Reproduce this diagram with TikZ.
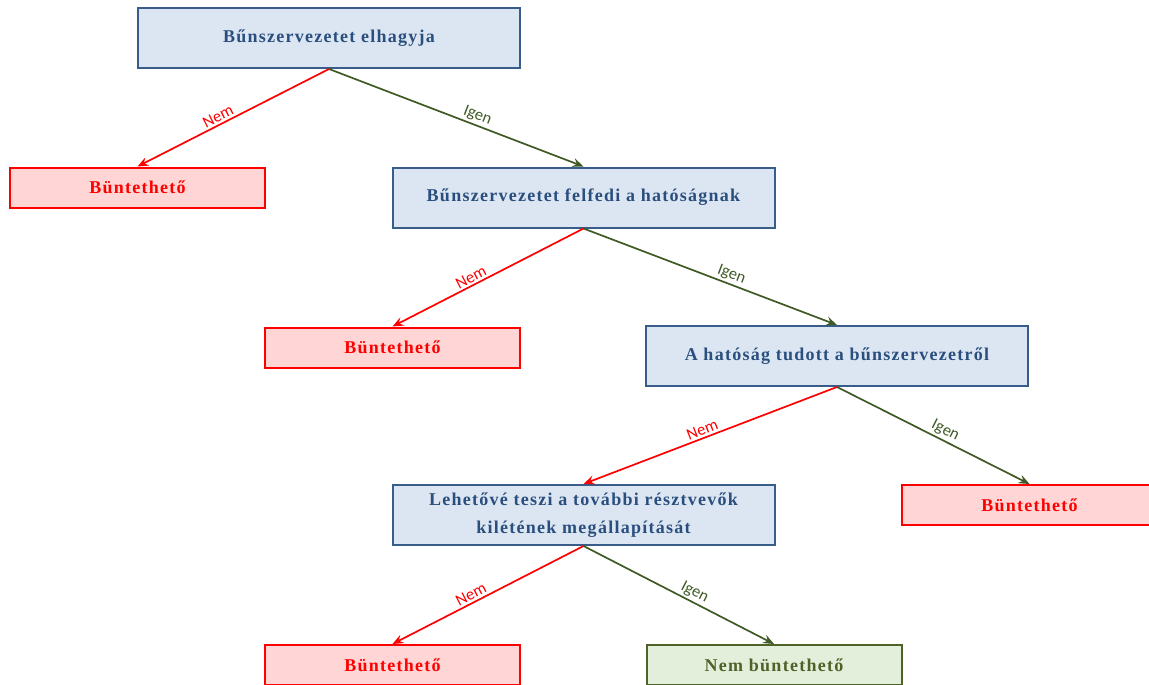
\documentclass[tikz,border=0pt]{standalone}
\usepackage{fontspec}
\setmainfont{Liberation Serif}
\newfontfamily\lblfont{Carlito}
\usetikzlibrary{arrows.meta}
\definecolor{bfill}{HTML}{DCE6F2}
\definecolor{bdraw}{HTML}{385D8A}
\definecolor{btext}{HTML}{2A4F7E}
\definecolor{rfill}{HTML}{FFD5D5}
\definecolor{rdraw}{HTML}{FF0000}
\definecolor{gfill}{HTML}{E3EFDA}
\definecolor{gdraw}{HTML}{4F6228}
\definecolor{garrow}{HTML}{3F5A24}
\begin{document}
\begin{tikzpicture}[x=1pt,y=-1pt,
  boxfont/.style={font=\fontsize{18}{28.5}\selectfont\bfseries\addfontfeature{LetterSpace=7}},
  qbox/.style={boxfont, draw=bdraw, fill=bfill, text=btext, line width=2pt, minimum width=382pt, minimum height=60pt, inner sep=0pt, align=center},
  rbox/.style={boxfont, draw=rdraw, fill=rfill, text=rdraw, line width=2pt, minimum width=255pt, minimum height=40pt, inner sep=0pt},
  gbox/.style={boxfont, draw=gdraw, fill=gfill, text=gdraw, line width=2pt, minimum width=255pt, minimum height=40pt, inner sep=0pt},
  redarr/.style={draw=rdraw, line width=1.7pt, -{Stealth[length=11pt,width=9pt,inset=4pt]}},
  grnarr/.style={draw=garrow, line width=1.7pt, -{Stealth[length=11pt,width=9pt,inset=4pt]}},
  lbl/.style={font=\lblfont\fontsize{16.5}{18}\selectfont, sloped, above, inner sep=2pt},
]
\clip (0,0) rectangle (1149,685);
\node[qbox] (q1) at (329,38) {Bűnszervezetet elhagyja};
\node[rbox] (r1) at (137.5,187.5) {Büntethető};
\node[qbox] (q2) at (583.5,197.5) {Bűnszervezetet felfedi a hatóságnak};
\node[rbox] (r2) at (392.5,347.5) {Büntethető};
\node[qbox] (q3) at (837,356) {A hatóság tudott a bűnszervezetről};
\node[qbox] (q4) at (583.5,515) {Lehetővé teszi a további résztvevők\\kilétének megállapítását};
\node[rbox] (r3) at (1029.5,505) {Büntethető};
\node[rbox] (r4) at (392.5,665) {Büntethető};
\node[gbox] (g1) at (774,665) {Nem büntethető};

\draw[redarr] (q1.south) -- node[lbl, pos=.56, text=rdraw] {Nem} (r1.north);
\draw[grnarr] (q1.south) -- node[lbl, pos=.57, text=garrow] {Igen} (q2.north);
\draw[redarr] (q2.south) -- node[lbl, pos=.57, text=rdraw] {Nem} (r2.north);
\draw[grnarr] (q2.south) -- node[lbl, pos=.57, text=garrow] {Igen} (q3.north);
\draw[redarr] (q3.south) -- node[lbl, pos=.52, text=rdraw] {Nem} (q4.north);
\draw[grnarr] (q3.south) -- node[lbl, pos=.54, text=garrow] {Igen} (r3.north);
\draw[redarr] (q4.south) -- node[lbl, pos=.57, text=rdraw] {Nem} (r4.north);
\draw[grnarr] (q4.south) -- node[lbl, pos=.56, text=garrow] {Igen} (g1.north);
\end{tikzpicture}
\end{document}
